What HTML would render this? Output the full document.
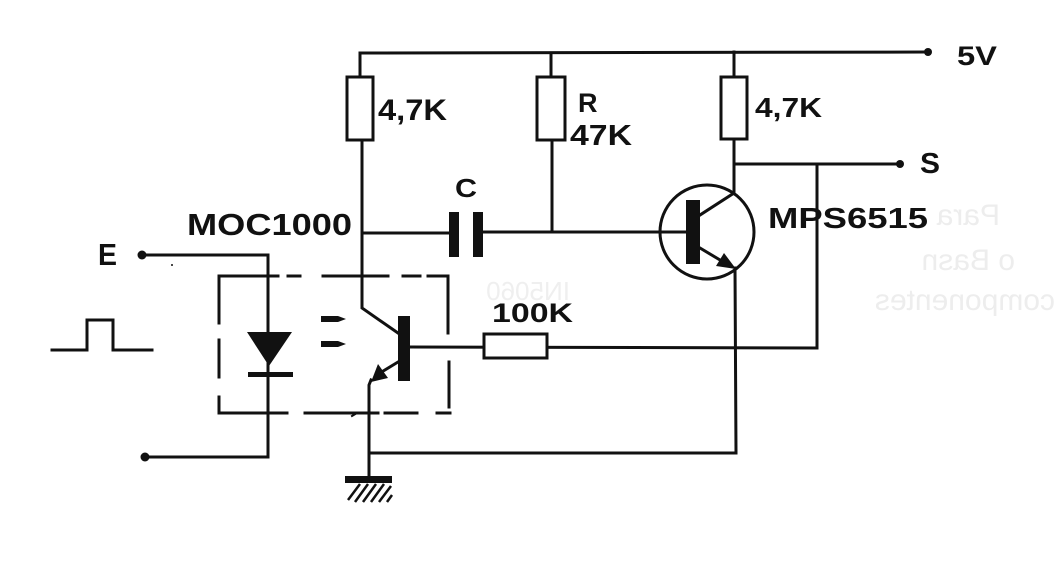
<!DOCTYPE html>
<html><head><meta charset="utf-8"><style>
html,body{margin:0;padding:0;background:#fff;}
svg{display:block;}
text{font-family:"Liberation Sans",sans-serif;font-weight:bold;fill:#111;}
</style></head><body>
<svg width="1055" height="574" viewBox="0 0 1055 574" xmlns="http://www.w3.org/2000/svg">
<rect width="1055" height="574" fill="#fff"/>
<!-- faint show-through -->
<g fill="#ececec" style="font-weight:normal">
<text x="0" y="0" transform="translate(1000,225) scale(-1,1)" font-size="30" style="fill:#ededed;font-weight:normal">Para</text>
<text x="0" y="0" transform="translate(1015,270) scale(-1,1)" font-size="30" style="fill:#ededed;font-weight:normal">o Basn</text>
<text x="0" y="0" transform="translate(1055,310) scale(-1,1)" font-size="30" style="fill:#ededed;font-weight:normal">componentes</text>
<text x="0" y="0" transform="translate(570,300) scale(-1,1)" font-size="26" style="fill:#efefef;font-weight:normal">IN5060</text>
</g>
<g stroke="#111" stroke-width="3" fill="none" stroke-linecap="square">
<!-- top rail -->
<line x1="360" y1="53" x2="926" y2="52"/>
<!-- R1 -->
<line x1="360" y1="53" x2="360" y2="77"/>
<rect x="347" y="77" width="26" height="63" fill="#fff"/>
<polyline points="362,140 362,308 398,333"/>
<!-- cap line -->
<line x1="362" y1="233" x2="450" y2="233"/>
<line x1="483" y1="232" x2="687" y2="232"/>
<!-- R2 -->
<line x1="551" y1="53" x2="551" y2="77"/>
<rect x="537" y="77" width="28" height="63" fill="#fff"/>
<line x1="552" y1="140" x2="552" y2="232"/>
<!-- R3 -->
<line x1="734" y1="52" x2="734" y2="77"/>
<rect x="721" y="77" width="26" height="62" fill="#fff"/>
<polyline points="734,139 734,193 700,215"/>
<!-- S line -->
<line x1="734" y1="164" x2="898" y2="164"/>
<polyline points="817,164 817,348 410,347"/>
<!-- MPS transistor -->
<circle cx="707" cy="232" r="47"/>
<line x1="700" y1="248" x2="725" y2="263"/>
<polyline points="735,268 736,453 369,453"/>
<!-- phototransistor emitter -->
<line x1="398" y1="362" x2="380" y2="373"/>
<polyline points="371,380 369,385 369,477"/>
<!-- E input -->
<polyline points="142,255 268,255 268,457 145,457"/>
<!-- pulse -->
<polyline points="52,350 87,350 87,320 113,320 113,350 152,350"/>
<!-- dashed box -->
<line x1="219" y1="276" x2="278" y2="276"/>
<line x1="288" y1="276" x2="300" y2="276"/>
<line x1="323" y1="276" x2="388" y2="276"/>
<line x1="403" y1="276" x2="420" y2="276"/>
<line x1="428" y1="276" x2="448" y2="276"/>
<line x1="219" y1="276" x2="219" y2="323"/>
<line x1="219" y1="340" x2="219" y2="377"/>
<line x1="219" y1="397" x2="219" y2="413"/>
<line x1="219" y1="413" x2="287" y2="413"/>
<line x1="305" y1="413" x2="378" y2="413"/>
<line x1="385" y1="413" x2="417" y2="413"/>
<line x1="437" y1="413" x2="450" y2="413"/>
<line x1="448" y1="276" x2="448" y2="333"/>
<line x1="449" y1="362" x2="449" y2="407"/>
<!-- 100K -->
<rect x="484" y="334" width="63" height="24" fill="#fff"/>
<!-- hatch -->
<g stroke-width="2.5" stroke-linecap="butt">
<line x1="348" y1="500" x2="360" y2="484"/>
<line x1="355" y1="502" x2="368" y2="484"/>
<line x1="363" y1="502" x2="376" y2="484"/>
<line x1="371" y1="502" x2="384" y2="484"/>
<line x1="379" y1="502" x2="391" y2="486"/>
<line x1="387" y1="502" x2="392" y2="495"/>
</g>
<line x1="352" y1="416" x2="357" y2="413" stroke-width="2"/>
</g>
<g fill="#111">
<circle cx="928" cy="52" r="4"/>
<circle cx="900" cy="164" r="4"/>
<circle cx="142" cy="255" r="4.5"/>
<circle cx="145" cy="457" r="4.5"/>
<!-- capacitor plates -->
<rect x="449" y="212" width="10" height="45"/>
<rect x="473" y="212" width="10" height="45"/>
<!-- MPS base bar -->
<rect x="686" y="200" width="14" height="64"/>
<!-- MPS emitter arrow -->
<polygon points="736,269 716,266 724,253"/>
<!-- photo bar -->
<rect x="398" y="316" width="12" height="65"/>
<!-- photo emitter arrow -->
<polygon points="371,382 378,364 388,378"/>
<!-- diode -->
<polygon points="247,332 292,332 269,366"/>
<rect x="248" y="372" width="45" height="5"/>
<!-- light arrows -->
<polygon points="321,316 338,316 346,319 338,322 321,322"/>
<polygon points="321,341 338,341 346,344 338,347 321,347"/>
<!-- ground bar -->
<rect x="345" y="476" width="47" height="7"/>
<circle cx="172" cy="265" r="1"/>
</g>
<!-- labels -->
<text x="957" y="65" font-size="27" textLength="40" lengthAdjust="spacingAndGlyphs">5V</text>
<text x="378" y="120" font-size="30" textLength="69" lengthAdjust="spacingAndGlyphs">4,7K</text>
<text x="578" y="112" font-size="27">R</text>
<text x="570" y="145" font-size="29" textLength="62" lengthAdjust="spacingAndGlyphs">47K</text>
<text x="755" y="117" font-size="28" textLength="67" lengthAdjust="spacingAndGlyphs">4,7K</text>
<text x="455" y="197" font-size="26" textLength="22" lengthAdjust="spacingAndGlyphs">C</text>
<text x="187" y="235" font-size="31" textLength="165" lengthAdjust="spacingAndGlyphs">MOC1000</text>
<text x="768" y="228" font-size="29" textLength="160" lengthAdjust="spacingAndGlyphs">MPS6515</text>
<text x="920" y="173" font-size="29" textLength="20" lengthAdjust="spacingAndGlyphs">S</text>
<text x="98" y="265" font-size="31" textLength="19" lengthAdjust="spacingAndGlyphs">E</text>
<text x="492" y="322" font-size="27" textLength="81" lengthAdjust="spacingAndGlyphs">100K</text>
</svg>
</body></html>
